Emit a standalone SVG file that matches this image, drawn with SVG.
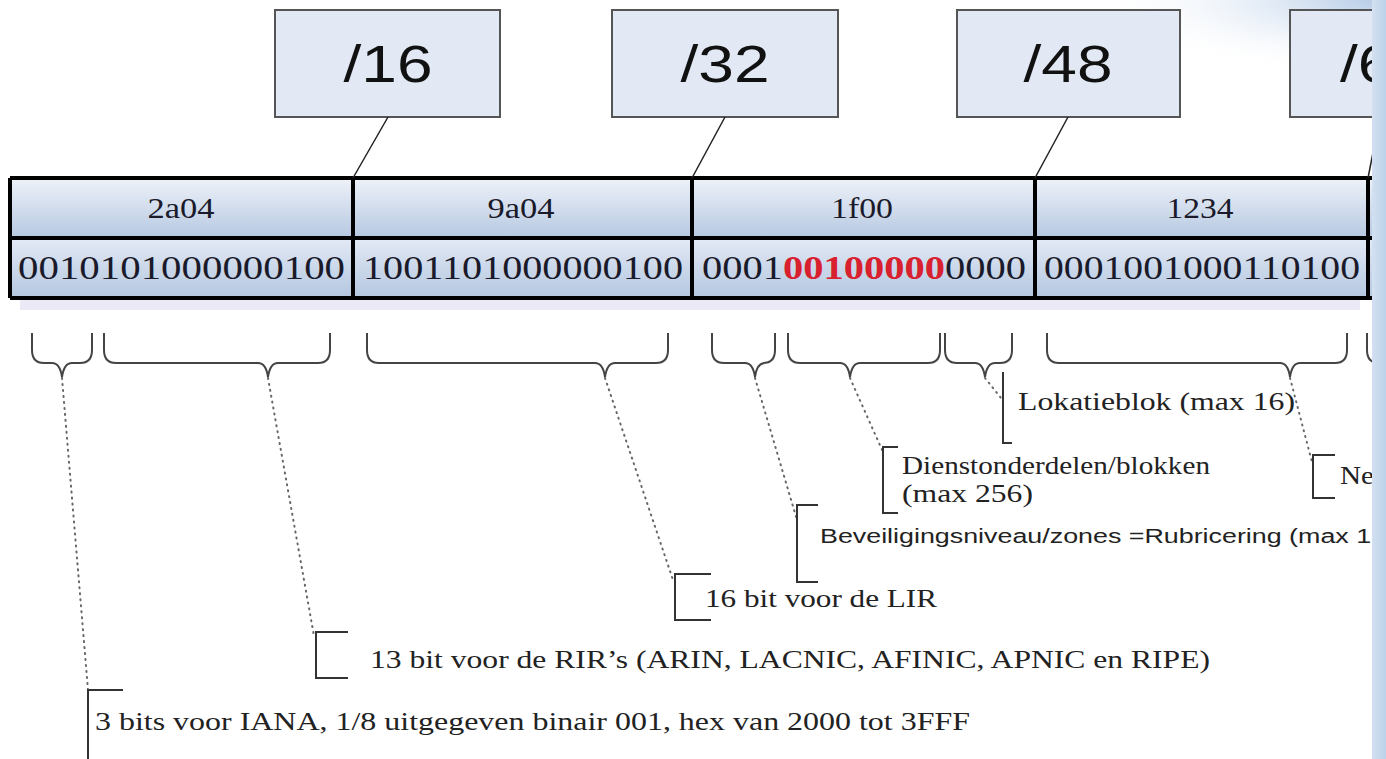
<svg xmlns="http://www.w3.org/2000/svg" width="1386" height="759" viewBox="0 0 1386 759">
<style>
.box{fill:#e3e9f4;stroke:#555;stroke-width:2}
.pfx{font-family:"Liberation Sans",Arial,sans-serif;font-size:52px;fill:#111;text-anchor:middle}
.hex{font-family:"Liberation Serif","Times New Roman",serif;font-size:29px;fill:#1a1a2a;text-anchor:middle}
.bin{font-family:"Liberation Serif","Times New Roman",serif;font-size:33px;fill:#1a1a2a}
.red{fill:#d8202e;font-weight:bold}
.lbl{font-family:"Liberation Serif","Times New Roman",serif;font-size:26px;fill:#222}
.lbls{font-family:"Liberation Sans",Arial,sans-serif;font-size:20px;fill:#222}
.con{stroke:#222;stroke-width:1.5;fill:none}
.brace{stroke:#444;stroke-width:2;fill:none}
.dot{stroke:#666;stroke-width:2;fill:none;stroke-dasharray:1 5;stroke-linecap:round}
.brk{stroke:#333;stroke-width:2;fill:none}
.grid{stroke:#000;stroke-width:4;fill:none}
</style>
<defs>
<linearGradient id="cell" x1="0" y1="0" x2="0" y2="1">
<stop offset="0" stop-color="#eef2f9"/>
<stop offset="1" stop-color="#b6c8e1"/>
</linearGradient>
<linearGradient id="cell2" x1="0" y1="0" x2="0" y2="1">
<stop offset="0" stop-color="#e4eaf6"/>
<stop offset="0.5" stop-color="#cbd8ea"/>
<stop offset="1" stop-color="#b4c7e0"/>
</linearGradient>
<radialGradient id="corner" gradientUnits="userSpaceOnUse" cx="1386" cy="0" r="300" gradientTransform="translate(1386 0) scale(1 0.25) translate(-1386 0)">
<stop offset="0" stop-color="#a9c3e3" stop-opacity="0.9"/>
<stop offset="1" stop-color="#ffffff" stop-opacity="0"/>
</radialGradient>
<linearGradient id="band" x1="0" y1="0" x2="1" y2="0">
<stop offset="0" stop-color="#d3e1f1"/>
<stop offset="1" stop-color="#bcd2ea"/>
</linearGradient>
</defs>
<rect width="1386" height="759" fill="#fff"/>
<rect x="1000" y="0" width="386" height="80" fill="url(#corner)"/>

<g id="prefix16"><rect class="box" x="275" y="10" width="225" height="107"/><text class="pfx" x="388" y="82" textLength="89" lengthAdjust="spacingAndGlyphs">/16</text></g>
<g id="prefix32"><rect class="box" x="612" y="10" width="226" height="107"/><text class="pfx" x="725" y="82" textLength="89" lengthAdjust="spacingAndGlyphs">/32</text></g>
<g id="prefix48"><rect class="box" x="957" y="10" width="223" height="107"/><text class="pfx" x="1068" y="82" textLength="89" lengthAdjust="spacingAndGlyphs">/48</text></g>
<g id="prefix64"><rect class="box" x="1290" y="10" width="200" height="107"/><text class="pfx" x="1340" y="82" style="text-anchor:start" textLength="89" lengthAdjust="spacingAndGlyphs">/64</text></g>

<g id="table">
<rect x="20" y="298" width="1340" height="12" fill="#ebe9f6"/>
<rect x="10" y="178" width="1380" height="60" fill="url(#cell)"/>
<rect x="10" y="238" width="1380" height="60" fill="url(#cell2)"/>
<path class="grid" d="M10,178 H1390 M10,238 H1390 M10,298 H1390 M10,178 V298 M353,178 V298 M692,178 V298 M1035,178 V298 M1368,178 V298"/>
<text class="hex" x="181" y="218" textLength="67" lengthAdjust="spacingAndGlyphs">2a04</text>
<text class="hex" x="521" y="218" textLength="67" lengthAdjust="spacingAndGlyphs">9a04</text>
<text class="hex" x="862" y="218" textLength="62" lengthAdjust="spacingAndGlyphs">1f00</text>
<text class="hex" x="1200" y="218" textLength="67" lengthAdjust="spacingAndGlyphs">1234</text>
<text class="bin" x="18" y="279" textLength="327" lengthAdjust="spacingAndGlyphs">0010101000000100</text>
<text class="bin" x="363" y="279" textLength="320" lengthAdjust="spacingAndGlyphs">1001101000000100</text>
<text class="bin" x="702" y="279" textLength="324" lengthAdjust="spacingAndGlyphs">0001<tspan class="red">00100000</tspan>0000</text>
<text class="bin" x="1044" y="279" textLength="316" lengthAdjust="spacingAndGlyphs">0001001000110100</text>
</g>

<g id="connectors">
<line class="con" x1="388" y1="117" x2="353" y2="178"/>
<line class="con" x1="725" y1="117" x2="692" y2="178"/>
<line class="con" x1="1068" y1="117" x2="1035" y2="178"/>
<line class="con" x1="1380" y1="117" x2="1368" y2="178"/>
<path class="dot" d="M62,378 L88,690"/>
<path class="dot" d="M268,378 L314,636"/>
<path class="dot" d="M605,378 L673,580"/>
<path class="dot" d="M755,378 L797,520"/>
<path class="dot" d="M850,378 L883,452"/>
<path class="dot" d="M985,378 L1001,398"/>
<path class="dot" d="M1290,378 L1312,462"/>
</g>

<g id="braces">
<path class="brace" d="M32,333 V350 Q32,363 44,363 H52 Q60,363 62,377 Q64,363 72,363 H80 Q92,363 92,350 V333"/>
<path class="brace" d="M104,333 V350 Q104,363 116,363 H258 Q266,363 268,377 Q270,363 278,363 H318 Q330,363 330,350 V333"/>
<path class="brace" d="M367,333 V350 Q367,363 379,363 H595 Q603,363 605,377 Q607,363 615,363 H656 Q668,363 668,350 V333"/>
<path class="brace" d="M712,333 V350 Q712,363 724,363 H745 Q753,363 755,377 Q757,363 765,363 H763 Q775,363 775,350 V333"/>
<path class="brace" d="M788,333 V350 Q788,363 800,363 H840 Q848,363 850,377 Q852,363 860,363 H928 Q940,363 940,350 V333"/>
<path class="brace" d="M945,333 V350 Q945,363 957,363 H975 Q983,363 985,377 Q987,363 995,363 H1000 Q1012,363 1012,350 V333"/>
<path class="brace" d="M1047,333 V350 Q1047,363 1059,363 H1280 Q1288,363 1290,377 Q1292,363 1300,363 H1335 Q1347,363 1347,350 V333"/>
<path class="brace" d="M1367,333 V350 Q1367,363 1379,363"/>
</g>

<g id="label-lokatie"><path class="brk" d="M1003,372 V443 H1012"/><text class="lbl" x="1018" y="410" textLength="277" lengthAdjust="spacingAndGlyphs">Lokatieblok (max 16)</text></g>
<g id="label-dienst"><path class="brk" d="M898,447 H883 V513 H898"/><text class="lbl" x="902" y="474" textLength="308" lengthAdjust="spacingAndGlyphs">Dienstonderdelen/blokken</text><text class="lbl" x="902" y="502" textLength="131" lengthAdjust="spacingAndGlyphs">(max 256)</text></g>
<g id="label-bev"><path class="brk" d="M818,505 H797 V582 H818"/><text class="lbls" x="820" y="543" textLength="575" lengthAdjust="spacingAndGlyphs">Beveiligingsniveau/zones =Rubricering (max 16)</text></g>
<g id="label-lir"><path class="brk" d="M711,574 H675 V620 H711"/><text class="lbl" x="705" y="607" textLength="232" lengthAdjust="spacingAndGlyphs">16 bit voor de LIR</text></g>
<g id="label-rir"><path class="brk" d="M348,632 H316 V678 H348"/><text class="lbl" x="370" y="668" textLength="840" lengthAdjust="spacingAndGlyphs">13 bit voor de RIR’s (ARIN, LACNIC, AFINIC, APNIC en RIPE)</text></g>
<g id="label-iana"><path class="brk" d="M123,690 H88 V762"/><text class="lbl" x="95" y="730" textLength="875" lengthAdjust="spacingAndGlyphs">3 bits voor IANA, 1/8 uitgegeven binair 001, hex van 2000 tot 3FFF</text></g>
<g id="label-ne"><path class="brk" d="M1335,455 H1313 V498 H1335"/><text class="lbl" x="1340" y="484" textLength="34" lengthAdjust="spacingAndGlyphs">Ne</text></g>

<rect x="1372" y="0" width="14" height="759" fill="url(#band)"/>
</svg>
